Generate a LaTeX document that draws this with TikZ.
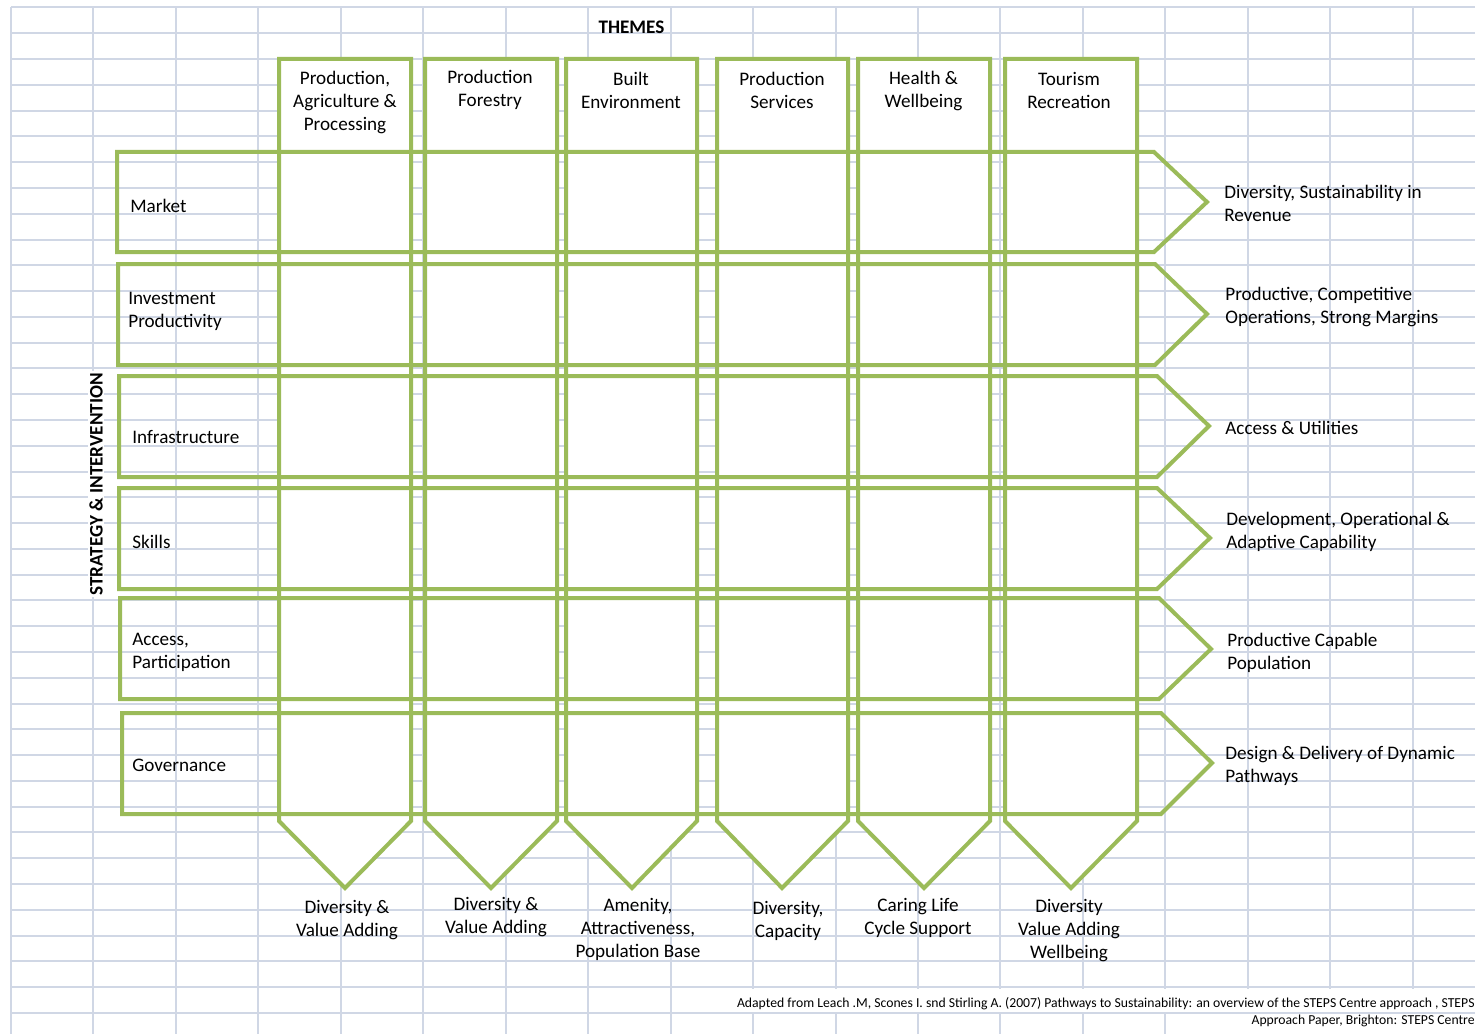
\documentclass[tikz,border=0pt]{standalone}
\usepackage{fontspec}
\setmainfont{Carlito}

\definecolor{leafgreen}{HTML}{9BBB59}
\definecolor{cellgrid}{HTML}{D0D7E5}

\begin{document}
\begin{tikzpicture}[x=0.02cm,y=-0.02cm,
    gridline/.style={cellgrid,line width=0.04cm},
    themecol/.style={draw=leafgreen,fill=white,line width=0.08cm},
    leverrow/.style={draw=leafgreen,line width=0.08cm},
    txt/.style={inner sep=0pt,yshift=-0.035cm,font=\fontsize{10.9}{13.2}\selectfont},
    colhead/.style={txt,align=center},
    outcome/.style={txt,align=center},
    rowtxt/.style={txt,align=left,anchor=west},
    result/.style={txt,align=left,anchor=west},
    source/.style={inner sep=0pt,anchor=east,font=\fontsize{7.8}{9.5}\selectfont}]

    \useasboundingbox (0,0) rectangle (1475,1034);

    % spreadsheet grid
    \foreach \k in {0,...,17}
        \draw [gridline] ({11+82.45*\k},7.5) -- ({11+82.45*\k},1034);
    \foreach \k in {0,...,39}
        \draw [gridline] (11,{7.5+25.78*\k}) -- (1475,{7.5+25.78*\k});

    % cells hidden by the source text
    \fill [white] (729,989) rectangle (1475,1012.3);
    \fill [white] (1243,1014.4) rectangle (1475,1034);

    % Title
    \node [txt,font=\fontsize{10.9}{13.2}\selectfont\bfseries] (themes) at (631.5,26) {THEMES};
    \node [txt,font=\fontsize{10.9}{13.2}\selectfont\bfseries,rotate=90,fill=white,inner sep=1pt] (strategy) at (96,482.5) {STRATEGY \& INTERVENTION};

    % Themes (columns pointing down)
    \draw [themecol] (279,59) -- (411,59) -- (411,821) -- (345,888) -- (279,821) -- cycle;
    \node [colhead] (agri) at (345,100.5) {Production,\\Agriculture \&\\Processing};
    \node [outcome] (agriout) at (347,918) {Diversity \&\\Value Adding};

    \draw [themecol] (425,59) -- (557,59) -- (557,821) -- (491,888) -- (425,821) -- cycle;
    \node [colhead] (forest) at (490,88.5) {Production\\Forestry};
    \node [outcome] (forestout) at (496,915.5) {Diversity \&\\Value Adding};

    \draw [themecol] (566,59) -- (697,59) -- (697,821) -- (632,888) -- (566,821) -- cycle;
    \node [colhead] (built) at (631,88.5) {Built\\Environment};
    \node [outcome] (builtout) at (638,928) {Amenity,\\Attractiveness,\\Population Base};

    \draw [themecol] (717,59) -- (848,59) -- (848,821) -- (782,888) -- (717,821) -- cycle;
    \node [colhead] (serv) at (782,88.5) {Production\\Services};
    \node [outcome] (servout) at (788,919) {Diversity,\\Capacity};

    \draw [themecol] (858,59) -- (990,59) -- (990,821) -- (924,888) -- (858,821) -- cycle;
    \node [colhead] (health) at (923.5,89.5) {Health \&\\Wellbeing};
    \node [outcome] (healthout) at (918,916) {Caring Life\\Cycle Support};

    \draw [themecol] (1005,59) -- (1137,59) -- (1137,821) -- (1071,888) -- (1005,821) -- cycle;
    \node [colhead] (tour) at (1069,88.5) {Tourism\\Recreation};
    \node [outcome] (tourout) at (1069,929) {Diversity\\Value Adding\\Wellbeing};

    % Strategy & intervention (rows pointing right)
    \draw [leverrow] (117,152) -- (1154,152) -- (1207,202) -- (1154,252) -- (117,252) -- cycle;
    \node [rowtxt] (market) at (130,204) {Market};
    \node [result] (marketres) at (1224,201.5) {Diversity, Sustainability in\\Revenue};

    \draw [leverrow] (118,264) -- (1155,264) -- (1207,314) -- (1155,365) -- (118,365) -- cycle;
    \node [rowtxt] (invest) at (128,310) {Investment\\Productivity};
    \node [result] (investres) at (1225,305.5) {Productive, Competitive\\Operations, Strong Margins};

    \draw [leverrow] (119,376) -- (1157,376) -- (1209,426) -- (1157,477) -- (119,477) -- cycle;
    \node [rowtxt] (infra) at (132,435) {Infrastructure};
    \node [result] (infrares) at (1225,426) {Access \& Utilities};

    \draw [leverrow] (119,488) -- (1157,488) -- (1210,538) -- (1157,589) -- (119,589) -- cycle;
    \node [rowtxt] (skills) at (132,540) {Skills};
    \node [result] (skillsres) at (1226,530) {Development, Operational \&\\Adaptive Capability};

    \draw [leverrow] (120,598) -- (1159,598) -- (1211,649) -- (1159,699) -- (120,699) -- cycle;
    \node [rowtxt] (access) at (132,650.5) {Access,\\Participation};
    \node [result] (accessres) at (1227,651.5) {Productive Capable\\Population};

    \draw [leverrow] (122,713) -- (1161,713) -- (1212,763) -- (1161,814) -- (122,814) -- cycle;
    \node [rowtxt] (gov) at (132,764) {Governance};
    \node [result] (govres) at (1225,764) {Design \& Delivery of Dynamic\\Pathways};

    % Source
    \node [source] (src1) at (1475,1004) {Adapted from Leach .M, Scones I. snd Stirling A. (2007) Pathways to Sustainability: an overview of the STEPS Centre approach , STEPS};
    \node [source] (src2) at (1475,1021) {Approach Paper, Brighton: STEPS Centre};

\end{tikzpicture}
\end{document}
